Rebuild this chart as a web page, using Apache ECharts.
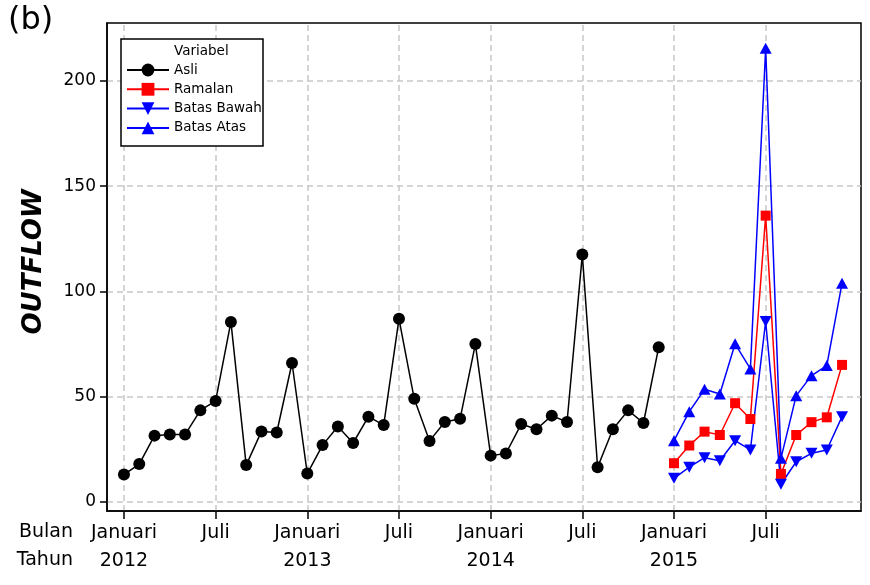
<!DOCTYPE html>
<html>
<head>
<meta charset="utf-8">
<script src="https://cdn.jsdelivr.net/npm/echarts@6/dist/echarts.min.js"></script>
<style>
  html, body { margin: 0; padding: 0; background: #fff; }
  #chart { width: 870px; height: 585px; }
</style>
</head>
<body>
<div id="chart"></div>
<script>
// monthly outflow, Jan 2012 - Dec 2014 (index 0..35)
const asli = [13, 18, 31.5, 32, 32, 43.5, 48, 85.5, 17.5, 33.5, 33, 66,
              13.5, 27, 35.8, 28, 40.5, 36.5, 87, 49, 29, 38, 39.5, 75,
              22, 23, 37, 34.5, 41, 38, 117.5, 16.5, 34.5, 43.5, 37.5, 73.5];
// forecast, Jan 2015 - Dec 2015 (index 36..47)
const ramalan = [18.4, 26.8, 33.4, 31.8, 46.9, 39.4, 136, 13.3, 31.8, 37.9, 40.2, 65.1];
const batasBawah = [11.2, 16.5, 21, 19.6, 29.1, 24.7, 85.7, 8.4, 19.1, 23.1, 24.7, 40.5];
const batasAtas = [29.1, 42.9, 53.5, 51.3, 75.1, 63.2, 215.5, 20.7, 50.5, 60, 64.8, 103.9];

const forecastStart = 36;
const xTicks = [0, 6, 12, 18, 24, 30, 36, 42];
const yTicks = [0, 50, 100, 150, 200];
const startYear = 2012;
const bulanLabels = ['Januari', 'Juli'];

const FONT = 'DejaVu Sans';

const pairs = (vals, offset) => vals.map((v, i) => [i + offset, v]);

const chart = echarts.init(document.getElementById('chart'));

const gridLine = { color: '#c8c8c8', width: 1.5, type: [6, 4] };

const option = {
  animation: false,
  backgroundColor: '#fff',
  textStyle: { fontFamily: FONT },
  grid: {
    left: 107, right: 9, top: 23, bottom: 74,
    show: true, borderColor: '#000', borderWidth: 1.5
  },
  legend: {
    data: ['Asli', 'Ramalan', 'Batas Bawah', 'Batas Atas'],
    orient: 'vertical',
    left: 126, top: 62,
    padding: 0,
    itemWidth: 42, itemHeight: 16, itemGap: 3.3,
    textStyle: { fontFamily: FONT, fontSize: 13.5, color: '#000', lineHeight: 16 }
  },
  xAxis: {
    type: 'value',
    min: -1.11, max: 48.24,
    interval: 6,
    axisLine: { onZero: false, lineStyle: { color: '#000', width: 1.5 } },
    axisTick: { length: 8, lineStyle: { color: '#000', width: 1.5 }, customValues: xTicks },
    axisLabel: {
      customValues: xTicks,
      fontFamily: FONT, fontSize: 19, color: '#000',
      lineHeight: 28, margin: 8,
      formatter: v => {
        const m = Math.round(v);
        if (m % 12 === 0) return bulanLabels[0] + '\n' + (startYear + m / 12);
        return bulanLabels[1];
      }
    },
    splitLine: { show: false }
  },
  yAxis: {
    type: 'value',
    min: -4.3, max: 227.5,
    interval: 50,
    axisLine: { onZero: false, lineStyle: { color: '#000', width: 1.5 } },
    axisTick: { length: 7, lineStyle: { color: '#000', width: 1.5 }, customValues: yTicks },
    axisLabel: {
      customValues: yTicks,
      fontFamily: FONT, fontSize: 17, color: '#000', margin: 11
    },
    splitLine: { show: true, lineStyle: gridLine }
  },
  graphic: [
    { type: 'text', left: 8, top: 5, style: { text: '(b)', font: '32px "DejaVu Sans"', fill: '#000' } },
    {
      type: 'text', x: 34, y: 262, rotation: Math.PI / 2,
      style: { text: 'OUTFLOW', font: 'italic bold 26px "DejaVu Sans"', fill: '#000',
               textAlign: 'center', textVerticalAlign: 'middle' }
    },
    { type: 'text', x: 73, y: 532, style: { text: 'Bulan', font: '19px "DejaVu Sans"', fill: '#000', textAlign: 'right', textVerticalAlign: 'middle' } },
    { type: 'text', x: 73, y: 560, style: { text: 'Tahun', font: '19px "DejaVu Sans"', fill: '#000', textAlign: 'right', textVerticalAlign: 'middle' } },
    { type: 'rect', shape: { x: 121, y: 39, width: 142, height: 107 }, style: { fill: '#fff', stroke: '#000', lineWidth: 1.5 }, z: 3 },
    { type: 'text', x: 174, y: 51, z: 4, style: { text: 'Variabel', font: '13.5px "DejaVu Sans"', fill: '#000', textVerticalAlign: 'middle' } }
  ],
  series: [
    {
      // vertical dashed grid lines at the half-year ticks
      type: 'line', data: [], z: 0, silent: true,
      markLine: {
        z: 0, silent: true, symbol: 'none', label: { show: false },
        lineStyle: gridLine,
        emphasis: { disabled: true },
        data: xTicks.map(v => ({ xAxis: v }))
      }
    },
    {
      name: 'Asli', type: 'line', data: pairs(asli, 0),
      symbol: 'circle', symbolSize: 12,
      itemStyle: { color: '#000' },
      lineStyle: { color: '#000', width: 1.5 }
    },
    {
      name: 'Ramalan', type: 'line', data: pairs(ramalan, forecastStart),
      symbol: 'rect', symbolSize: 10,
      itemStyle: { color: '#ff0000' },
      lineStyle: { color: '#ff0000', width: 1.5 }
    },
    {
      name: 'Batas Bawah', type: 'line', data: pairs(batasBawah, forecastStart),
      symbol: 'triangle', symbolSize: [12, 11], symbolRotate: 180,
      itemStyle: { color: '#0000ff' },
      lineStyle: { color: '#0000ff', width: 1.5 }
    },
    {
      name: 'Batas Atas', type: 'line', data: pairs(batasAtas, forecastStart),
      symbol: 'triangle', symbolSize: [12, 11],
      itemStyle: { color: '#0000ff' },
      lineStyle: { color: '#0000ff', width: 1.5 }
    }
  ]
};

chart.setOption(option);
</script>
</body>
</html>
